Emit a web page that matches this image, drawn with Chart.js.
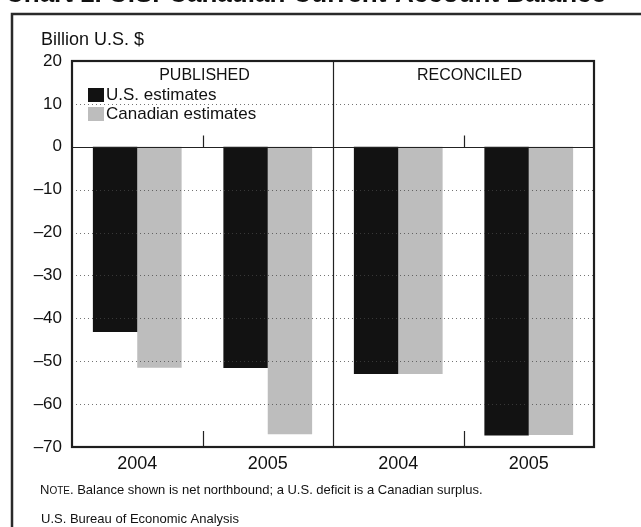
<!DOCTYPE html>
<html>
<head>
<meta charset="utf-8">
<script src="https://cdn.jsdelivr.net/npm/chart.js@4.4.0/dist/chart.umd.min.js"></script>
<style>
html,body{margin:0;padding:0;background:#fff;overflow:hidden;}
canvas{display:block;}
</style>
</head>
<body>
<canvas id="c" width="641" height="527"></canvas>
<script>
const categories = ['2004', '2005', '2004', '2005'];
const usEstimates = [-43.2, -51.6, -53.0, -67.3];
const canadianEstimates = [-51.5, -67.0, -53.0, -67.2];
const seriesNames = ['U.S. estimates', 'Canadian estimates'];
const panelLabels = ['PUBLISHED', 'RECONCILED'];
const yTicks = [20, 10, 0, -10, -20, -30, -40, -50, -60, -70];
const gridValues = [10, -10, -20, -30, -40, -50, -60];
const titleText = 'Chart 1. U.S.-Canadian Current-Account Balance';
const unitText = 'Billion U.S. $';
const noteText = '. Balance shown is net northbound; a U.S. deficit is a Canadian surplus.';
const sourceText = 'U.S. Bureau of Economic Analysis';

const FONT = '"Liberation Sans", Arial, Helvetica, sans-serif';
const INK = '#111';
const barColors = ['#121212', '#bdbdbd'];

const decor = {
  id: 'decor',
  beforeDraw(chart) {
    const c = chart.ctx;
    c.save();
    c.fillStyle = '#fff';
    c.fillRect(0, 0, chart.width, chart.height);
    // title (cut off at top)
    c.fillStyle = INK;
    c.font = 'bold 26px ' + FONT;
    c.textBaseline = 'alphabetic';
    c.textAlign = 'left';
    c.fillText(titleText, 5, 2);
    // outer frame
    c.strokeStyle = '#2a2a2a';
    c.lineWidth = 2.5;
    c.beginPath();
    c.moveTo(12, 540);
    c.lineTo(12, 14);
    c.lineTo(660, 14);
    c.stroke();
    // unit label
    c.font = '18px ' + FONT;
    c.fillText(unitText, 41, 45);
    c.restore();
  },
  afterDatasetsDraw(chart) {
    const c = chart.ctx;
    const a = chart.chartArea;
    const y = chart.scales.y, x = chart.scales.x;
    c.save();
    // dotted grid lines
    c.strokeStyle = 'rgba(70,70,70,0.75)';
    c.lineWidth = 1;
    c.setLineDash([1, 3]);
    gridValues.forEach(v => {
      const py = Math.round(y.getPixelForValue(v)) + 0.5;
      c.beginPath();
      c.moveTo(a.left, py);
      c.lineTo(a.right, py);
      c.stroke();
    });
    c.setLineDash([]);
    // zero line
    c.strokeStyle = '#222';
    c.lineWidth = 1.2;
    const z = Math.round(y.getPixelForValue(0)) + 0.5;
    c.beginPath();
    c.moveTo(a.left, z);
    c.lineTo(a.right, z);
    c.stroke();
    // panel divider
    const mid = (x.getPixelForValue(1) + x.getPixelForValue(2)) / 2;
    c.lineWidth = 1.2;
    c.beginPath();
    c.moveTo(Math.round(mid) + 0.5, a.top);
    c.lineTo(Math.round(mid) + 0.5, a.bottom);
    c.stroke();
    // small ticks between years
    [[0, 1], [2, 3]].forEach(([i, j]) => {
      const px = Math.round((x.getPixelForValue(i) + x.getPixelForValue(j)) / 2) + 0.5;
      c.beginPath();
      c.moveTo(px, z);
      c.lineTo(px, z - 12);
      c.moveTo(px, a.bottom);
      c.lineTo(px, a.bottom - 16);
      c.stroke();
    });
    // frame
    c.strokeStyle = '#1e1e1e';
    c.lineWidth = 2.2;
    c.strokeRect(a.left, a.top, a.right - a.left, a.bottom - a.top);
    // panel labels
    c.fillStyle = INK;
    c.font = '16px ' + FONT;
    c.textAlign = 'center';
    c.textBaseline = 'middle';
    c.fillText(panelLabels[0], (a.left + mid) / 2 + 2, 76);
    c.fillText(panelLabels[1], (mid + a.right) / 2 + 6, 76);
    // legend
    c.textAlign = 'left';
    c.font = '17px ' + FONT;
    chart.data.datasets.forEach((ds, i) => {
      const top = 88 + i * 19;
      c.fillStyle = ds.backgroundColor;
      c.fillRect(88, top, 16, 14);
      c.fillStyle = INK;
      c.fillText(ds.label, 106, top + 7);
    });
    // note
    c.textBaseline = 'alphabetic';
    c.font = '13px ' + FONT;
    let nx = 40;
    c.fillText('N', nx, 494);
    nx += c.measureText('N').width;
    c.font = '10px ' + FONT;
    c.fillText('OTE', nx, 494);
    nx += c.measureText('OTE').width;
    c.font = '13px ' + FONT;
    c.fillText(noteText, nx, 494);
    c.fillText(sourceText, 41, 523);
    c.restore();
  }
};

new Chart(document.getElementById('c'), {
  type: 'bar',
  data: {
    labels: categories,
    datasets: [
      { label: seriesNames[0], data: usEstimates, backgroundColor: barColors[0], borderWidth: 0 },
      { label: seriesNames[1], data: canadianEstimates, backgroundColor: barColors[1], borderWidth: 0 }
    ]
  },
  options: {
    responsive: false,
    animation: false,
    devicePixelRatio: 1,
    layout: { padding: { left: 12, top: 61, right: 47, bottom: 50 } },
    plugins: { legend: { display: false }, tooltip: { enabled: false } },
    datasets: { bar: { barPercentage: 1, categoryPercentage: 0.68 } },
    scales: {
      x: {
        grid: { display: false, drawTicks: false },
        border: { display: false },
        ticks: { font: { size: 18, family: FONT }, color: INK, padding: 6, maxRotation: 0 },
        afterFit(s) { s.height = 30; }
      },
      y: {
        min: -70, max: 20,
        afterBuildTicks(s) { s.ticks = yTicks.map(v => ({ value: v })); },
        grid: { display: false, drawTicks: false },
        border: { display: false },
        ticks: {
          font: { size: 17, family: FONT }, color: INK, padding: 10,
          callback: v => String(v).replace('-', '\u2013')
        },
        afterFit(s) { s.width = 60; }
      }
    }
  },
  plugins: [decor]
});
</script>
</body>
</html>
